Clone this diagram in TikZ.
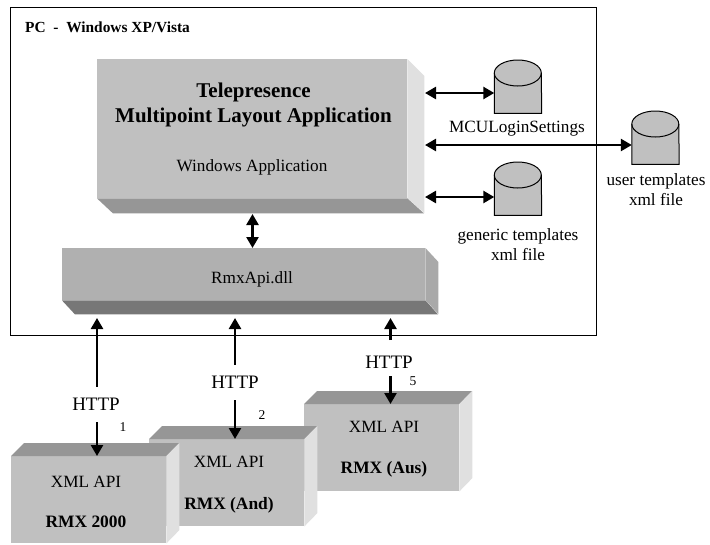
\documentclass[tikz,border=0pt]{standalone}
\usepackage{fontspec}
\setmainfont{Liberation Serif}
\usetikzlibrary{arrows.meta,calc}
\definecolor{frontc}{HTML}{C0C0C0}
\definecolor{topc}{HTML}{969696}
\definecolor{sidec}{HTML}{E0E0E0}
\definecolor{dllfront}{HTML}{B0B0B0}
\definecolor{dllside}{HTML}{A9A9A9}
\definecolor{dllbottom}{HTML}{777777}
\tikzset{
  frontface/.style={fill=#1,draw=none,inner sep=0pt,anchor=north west},
  dblarrow/.style={line width=2.5pt,{Triangle[length=11pt,width=12pt]}-{Triangle[length=11pt,width=12pt]}},
  onearrow/.style={line width=2.5pt,-{Triangle[length=11pt,width=12pt]}},
  drumbox/.style={inner sep=0pt,minimum width=47pt,minimum height=53pt,anchor=north},
  drumline/.style={draw=black,line width=1pt,fill=frontc},
  lab/.style={font=\fontsize{17.2}{20}\selectfont,align=center,inner sep=0pt},
  httplab/.style={font=\fontsize{19}{20}\selectfont,inner sep=0pt,minimum height=35pt},
  numlab/.style={font=\fontsize{13.5}{15}\selectfont,inner sep=0pt},
  boldlab/.style={font=\bfseries\fontsize{17.4}{20}\selectfont,inner sep=0pt},
}
% rmx-style box: name, x, y of the front face
\newcommand{\rmxbox}[3]{%
  \node[frontface=frontc,minimum width=155pt,minimum height=87pt] (#1) at (#2,#3) {};
  \fill[topc] (#1.north west) -- ++(13,-13) -- ++(155,0) -- (#1.north east) -- cycle;
  \fill[sidec] (#1.north east) -- ++(13,-13) -- ++(0,87) -- (#1.south east) -- cycle;
}
% drum: name, x of centre, y of top
\newcommand{\drum}[3]{%
  \node[drumbox] (#1) at (#2,#3) {};
  \draw[drumline] ($(#1.north west)+(0,13)$) arc[start angle=180,end angle=0,x radius=23.5pt,y radius=13pt]
     -- (#1.south east) -- (#1.south west) -- cycle;
  \draw[drumline,fill=none] ($(#1.north west)+(0,13)$) arc[start angle=180,end angle=360,x radius=23.5pt,y radius=13pt];
}
\begin{document}
\begin{tikzpicture}[x=1pt,y=-1pt]
\useasboundingbox (0,0) rectangle (710,544);
\fill[white] (0,0) rectangle (710,544);
% frame
\node[draw=black,line width=1.2pt,inner sep=0pt,minimum width=586pt,minimum height=328pt,anchor=north west] (pc) at (10,7) {};
\node[anchor=west,inner sep=0pt,font=\bfseries\fontsize{15.4}{17}\selectfont] (pctext) at (25,27) {PC\ \ -\ \ Windows XP/Vista};
% application block
\node[frontface=frontc,minimum width=310pt,minimum height=139pt] (app) at (97,59) {};
\fill[sidec] (app.north east) -- ++(17,17) -- ++(0,137) -- ++(-17,-15) -- cycle;
\fill[topc] (app.south west) -- ++(16,15) -- ++(311,0) -- (app.south east) -- cycle;
\node[align=center,inner sep=0pt,font=\bfseries\fontsize{21}{25}\selectfont] (apptitle) at (253.5,105) {Telepresence\\Multipoint Layout Application};
\node[lab] (appsub) at (252,167) {Windows Application};
% dll block
\node[frontface=dllfront,minimum width=363pt,minimum height=52pt] (dll) at (62,248) {};
\fill[dllside] (dll.north east) -- ++(13,14) -- ++(0,52) -- ++(-13,-14) -- cycle;
\fill[dllbottom] (dll.south west) -- ++(13,14) -- ++(363,0) -- (dll.south east) -- cycle;
\node[lab] (dlltext) at (252,279.5) {RmxApi.dll};
% drums
\drum{d1}{518}{60}
\drum{d2}{655.5}{111}
\drum{d3}{518}{162}
\node[lab] (d1text) at (517,129) {MCULoginSettings};
\node[lab] (d2text) at (656,190) {user templates\\xml file};
\node[lab] (d3text) at (518,245) {generic templates\\xml file};
% drum connectors
\coordinate (p1) at (425,93);
\coordinate (p2) at (425,145);
\coordinate (p3) at (425,197);
\draw[dblarrow] (p1) -- (d1.west |- p1);
\draw[dblarrow] (p2) -- (d2.west |- p2);
\draw[dblarrow] (p3) -- (d3.west |- p3);
\coordinate (appb) at (252.5,214);
\draw[dblarrow] (appb) -- (dll.north -| appb);
% remote boxes
\rmxbox{r3}{304}{404}
\rmxbox{r2}{149}{439}
\rmxbox{r1}{11}{456}
\node[lab] (x1) at (86,481.5) {XML API};
\node[boldlab] (n1) at (86,521.5) {RMX 2000};
\node[lab] (x2) at (229,461.5) {XML API};
\node[boldlab] (n2) at (229,505) {RMX (And)};
\node[lab] (x3) at (384,426.5) {XML API};
\node[boldlab] (n3) at (384,469) {RMX (Aus)};
% http connectors
\coordinate (t1) at (97,318);
\coordinate (t2) at (235,318);
\coordinate (t3) at (390.5,318);
\coordinate (b1) at (97,456);
\coordinate (b2) at (235,439);
\coordinate (b3) at (390.5,404);
\coordinate (h3top) at (390.5,340);
\node[httplab] (h1) at (96,404.5) {HTTP};
\node[httplab] (h2) at (235,382.5) {HTTP};
\node[httplab,minimum height=28pt] (h3) at (389,362) {HTTP};
\draw[onearrow] (h1.north -| t1) -- (t1);
\draw[onearrow] (h1.south -| b1) -- (b1);
\draw[onearrow] (h2.north -| t2) -- (t2);
\draw[onearrow] (h2.south -| b2) -- (b2);
\draw[onearrow] (h3top) -- (t3);
\draw[onearrow] (h3.south -| b3) -- (b3);
\node[numlab] (m1) at (123,427) {1};
\node[numlab] (m2) at (262,415) {2};
\node[numlab] (m3) at (413,381) {5};
\end{tikzpicture}
\end{document}
